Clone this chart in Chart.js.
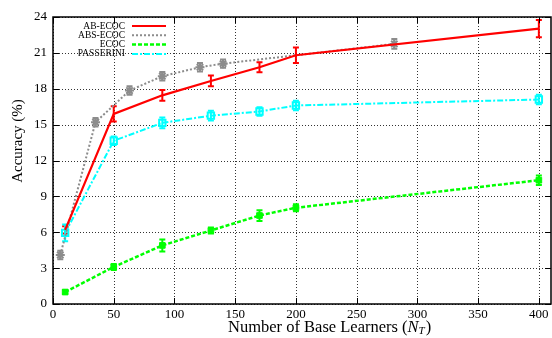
<!DOCTYPE html>
<html>
<head>
<meta charset="utf-8">
<script src="https://cdn.jsdelivr.net/npm/chart.js@4.4.1/dist/chart.umd.min.js"></script>
<style>
  html, body { margin: 0; padding: 0; background: #fff; }
  #wrap { width: 552px; height: 338px; }
</style>
</head>
<body>
<div id="wrap"><canvas id="plot"></canvas></div>
<script>
// values
const xTicks = [0, 50, 100, 150, 200, 250, 300, 350, 400];
const yTicks = [0, 3, 6, 9, 12, 15, 18, 21, 24];

const abX   = [10, 50, 90, 130, 170, 200, 400];
const abY   = [6.2, 15.9, 17.45, 18.65, 19.8, 20.8, 23.03];
const abErr = [0.3, 0.63, 0.45, 0.45, 0.42, 0.65, 0.72];

const absX   = [6, 35, 63, 90, 121, 140, 281];
const absY   = [4.1, 15.2, 17.85, 19.05, 19.8, 20.1, 21.75];
const absErr = [0.35, 0.35, 0.35, 0.35, 0.35, 0.35, 0.4];

const ecX   = [10, 50, 90, 130, 170, 200, 400];
const ecY   = [1.0, 3.1, 4.9, 6.15, 7.4, 8.05, 10.35];
const ecErr = [0.15, 0.25, 0.5, 0.25, 0.45, 0.3, 0.4];

const paX   = [10, 50, 90, 130, 170, 200, 400];
const paY   = [5.95, 13.65, 15.15, 15.75, 16.1, 16.6, 17.1];
const paErr = [0.7, 0.35, 0.45, 0.4, 0.35, 0.4, 0.4];

const SERIF = "'Liberation Serif', 'DejaVu Serif', serif";

function pts(x, y) {
  return x.map((xi, i) => ({ x: xi, y: y[i] }));
}

// Chart.js keeps a few px on the right for the last x label;
// the reference frame runs to the edge, so stretch the x scale after layout
const stretchRight = {
  id: "stretchRight",
  afterLayout(chart) {
    const a = chart.chartArea, sx = chart.scales.x;
    a.right = chart.width - 1;
    a.width = a.right - a.left;
    sx.right = a.right;
    sx.width = sx.right - sx.left;
    sx.configure();
  }
};

// vertical error bars with caps, drawn under the markers
const errorBars = {
  id: "errorBars",
  beforeDatasetsDraw(chart) {
    const { ctx, scales } = chart;
    ctx.save();
    chart.data.datasets.forEach(ds => {
      if (!ds.err) return;
      ctx.strokeStyle = ds.borderColor;
      ctx.lineWidth = 2;
      ctx.setLineDash([]);
      ds.data.forEach((p, i) => {
        const px = scales.x.getPixelForValue(p.x);
        const y1 = scales.y.getPixelForValue(p.y - ds.err[i]);
        const y2 = scales.y.getPixelForValue(p.y + ds.err[i]);
        ctx.beginPath();
        ctx.moveTo(px, y1); ctx.lineTo(px, y2);
        ctx.moveTo(px - 3, y1); ctx.lineTo(px + 3, y1);
        ctx.moveTo(px - 3, y2); ctx.lineTo(px + 3, y2);
        ctx.stroke();
      });
    });
    ctx.restore();
  }
};

// dotted grid drawn by hand so the dots stay crisp
const dottedGrid = {
  id: "dottedGrid",
  beforeDatasetsDraw(chart) {
    const { ctx, chartArea: a, scales } = chart;
    ctx.save();
    ctx.strokeStyle = "#333";
    ctx.lineWidth = 1;
    ctx.setLineDash([1, 2]);
    ctx.beginPath();
    xTicks.forEach(v => {
      const px = Math.round(scales.x.getPixelForValue(v)) + 0.5;
      ctx.moveTo(px, a.top); ctx.lineTo(px, a.bottom);
    });
    yTicks.forEach(v => {
      const py = Math.round(scales.y.getPixelForValue(v)) + 0.5;
      ctx.moveTo(a.left, py); ctx.lineTo(a.right, py);
    });
    ctx.stroke();
    ctx.restore();
  }
};

// gnuplot style frame: solid border, inward ticks on all four sides,
// legend in the top-left corner and the axis titles
const frame = {
  id: "frame",
  afterDraw(chart) {
    const { ctx, chartArea: a, scales } = chart;
    ctx.save();
    ctx.strokeStyle = "#000";
    ctx.lineWidth = 1.5;
    ctx.setLineDash([]);
    ctx.strokeRect(a.left, a.top, a.right - a.left, a.bottom - a.top);
    ctx.lineWidth = 1;
    ctx.beginPath();
    xTicks.forEach(v => {
      const px = Math.round(scales.x.getPixelForValue(v)) + 0.5;
      ctx.moveTo(px, a.bottom); ctx.lineTo(px, a.bottom - 6);
      ctx.moveTo(px, a.top); ctx.lineTo(px, a.top + 6);
    });
    yTicks.forEach(v => {
      const py = Math.round(scales.y.getPixelForValue(v)) + 0.5;
      ctx.moveTo(a.left, py); ctx.lineTo(a.left + 6, py);
      ctx.moveTo(a.right, py); ctx.lineTo(a.right - 6, py);
    });
    ctx.stroke();

    // legend
    ctx.font = "9.5px " + SERIF;
    ctx.textAlign = "right";
    ctx.textBaseline = "middle";
    chart.data.datasets.forEach((ds, i) => {
      const y = 26 + i * 9.3;
      ctx.fillStyle = "#000";
      ctx.fillText(ds.label, 125, y);
      ctx.strokeStyle = ds.borderColor;
      ctx.lineWidth = ds.borderWidth;
      ctx.setLineDash(ds.borderDash || []);
      ctx.beginPath();
      ctx.moveTo(132, y); ctx.lineTo(166, y);
      ctx.stroke();
    });
    ctx.setLineDash([]);

    // y axis title
    ctx.fillStyle = "#000";
    ctx.font = "15px " + SERIF;
    ctx.textAlign = "center";
    ctx.textBaseline = "middle";
    ctx.save();
    ctx.translate(18, 141);
    ctx.rotate(-Math.PI / 2);
    ctx.fillText("Accuracy (%)", 0, 0);
    ctx.restore();

    // x axis title: Number of Base Learners (N_T)
    const yT = 328;
    ctx.textAlign = "left";
    const parts = [
      { t: "Number of Base Learners (", f: "16.5px " + SERIF, dy: 0 },
      { t: "N", f: "italic 16.5px " + SERIF, dy: 0 },
      { t: "T", f: "italic 11px " + SERIF, dy: 3 },
      { t: ")", f: "16.5px " + SERIF, dy: 0 }
    ];
    let x = 228;
    parts.forEach(p => {
      ctx.font = p.f;
      ctx.fillText(p.t, x, yT + p.dy);
      x += ctx.measureText(p.t).width + (p.t === "T" ? 1 : 0);
    });
    ctx.restore();
  }
};

const ctx = document.getElementById("plot").getContext("2d");

new Chart(ctx, {
  type: "line",
  data: {
    datasets: [
      {
        label: "AB-ECOC",
        data: pts(abX, abY),
        err: abErr,
        borderColor: "#ff0000",
        borderWidth: 2.2,
        borderDash: [],
        pointRadius: 0
      },
      {
        label: "ABS-ECOC",
        data: pts(absX, absY),
        err: absErr,
        borderColor: "#8c8c8c",
        borderWidth: 2,
        borderDash: [2, 2],
        pointStyle: "star",
        pointRadius: 4.5,
        pointBorderWidth: 2,
        pointBorderColor: "#8c8c8c"
      },
      {
        label: "ECOC",
        data: pts(ecX, ecY),
        err: ecErr,
        borderColor: "#00ff00",
        borderWidth: 2.5,
        borderDash: [4, 2],
        pointStyle: "rect",
        pointRadius: 4,
        pointBorderWidth: 1,
        pointBackgroundColor: "#00ff00",
        pointBorderColor: "#00ff00"
      },
      {
        label: "PASSERINI",
        data: pts(paX, paY),
        err: paErr,
        borderColor: "#00ffff",
        borderWidth: 2,
        borderDash: [6, 2, 2, 2],
        pointStyle: "rect",
        pointRadius: 4.5,
        pointBorderWidth: 2,
        pointBackgroundColor: "rgba(0,0,0,0)",
        pointBorderColor: "#00ffff"
      }
    ]
  },
  options: {
    responsive: true,
    maintainAspectRatio: false,
    animation: false,
    layout: { padding: { top: 17, right: 1, left: 0, bottom: 0 } },
    elements: { line: { tension: 0, fill: false } },
    plugins: {
      legend: { display: false },
      tooltip: { enabled: false }
    },
    scales: {
      x: {
        type: "linear",
        min: 0,
        max: 410,
        afterFit: s => { s.height = 34; },
        afterBuildTicks: s => { s.ticks = xTicks.map(v => ({ value: v })); },
        ticks: {
          padding: 3,
          color: "#000",
          font: { family: SERIF, size: 13 }
        },
        grid: { display: false, drawTicks: false },
        border: { display: false }
      },
      y: {
        type: "linear",
        min: 0,
        max: 24,
        afterFit: s => { s.width = 53; },
        afterBuildTicks: s => { s.ticks = yTicks.map(v => ({ value: v })); },
        ticks: {
          padding: 6,
          color: "#000",
          font: { family: SERIF, size: 13 }
        },
        grid: { display: false, drawTicks: false },
        border: { display: false }
      }
    }
  },
  plugins: [stretchRight, dottedGrid, errorBars, frame]
});
</script>
</body>
</html>
